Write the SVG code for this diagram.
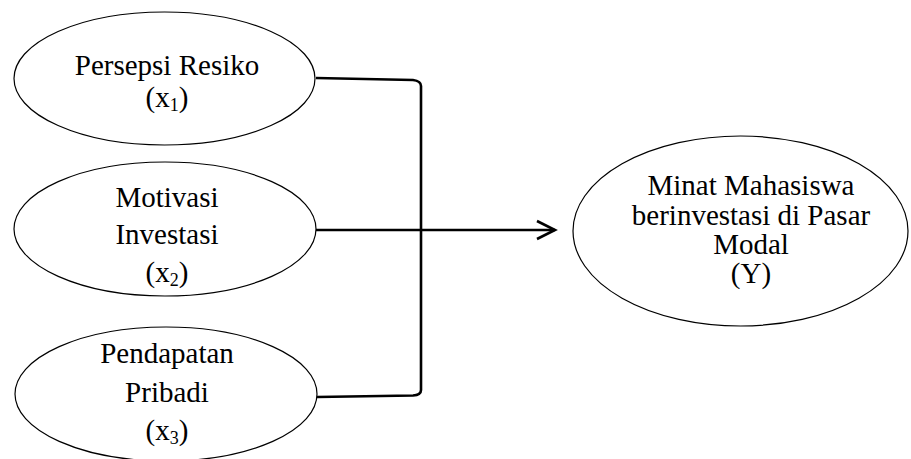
<svg xmlns="http://www.w3.org/2000/svg" width="911" height="459" viewBox="0 0 911 459">
<style>
.node ellipse{fill:#fff;stroke:#000;stroke-width:1.2}
.node text{font-family:"Liberation Serif","Times New Roman",serif;font-size:29px;fill:#000;text-anchor:middle}
.sub{font-size:18px}
.conn{fill:none;stroke:#000;stroke-width:2.6}
</style>
<rect width="911" height="459" fill="#fff"/>
<g id="connectors">
<path class="conn" d="M316,78 L413,80 Q421,81 421,86 L421,390 Q421,395 413,395.5 L317,397"/>
<path class="conn" d="M316,230 L555,230"/>
<polyline class="conn" points="537,221 555,230 537,239"/>
</g>
<g id="node-x1" class="node">
<ellipse cx="164.5" cy="78.5" rx="150.5" ry="66.5"/>
<text x="167" y="75">Persepsi Resiko</text>
<text x="167" y="107">(x<tspan class="sub" dy="4">1</tspan><tspan dy="-4">)</tspan></text>
</g>
<g id="node-x2" class="node">
<ellipse cx="165" cy="229" rx="151" ry="67"/>
<text x="167" y="207">Motivasi</text>
<text x="167" y="244">Investasi</text>
<text x="167" y="282">(x<tspan class="sub" dy="4">2</tspan><tspan dy="-4">)</tspan></text>
</g>
<g id="node-x3" class="node">
<ellipse cx="166" cy="394" rx="151" ry="67"/>
<text x="167" y="363">Pendapatan</text>
<text x="167" y="402">Pribadi</text>
<text x="167" y="440">(x<tspan class="sub" dy="4">3</tspan><tspan dy="-4">)</tspan></text>
</g>
<g id="node-y" class="node">
<ellipse cx="740.5" cy="231" rx="167.5" ry="95"/>
<text x="751" y="195">Minat Mahasiswa</text>
<text x="751" y="225">berinvestasi di Pasar</text>
<text x="751" y="254">Modal</text>
<text x="751" y="283">(Y)</text>
</g>
</svg>
